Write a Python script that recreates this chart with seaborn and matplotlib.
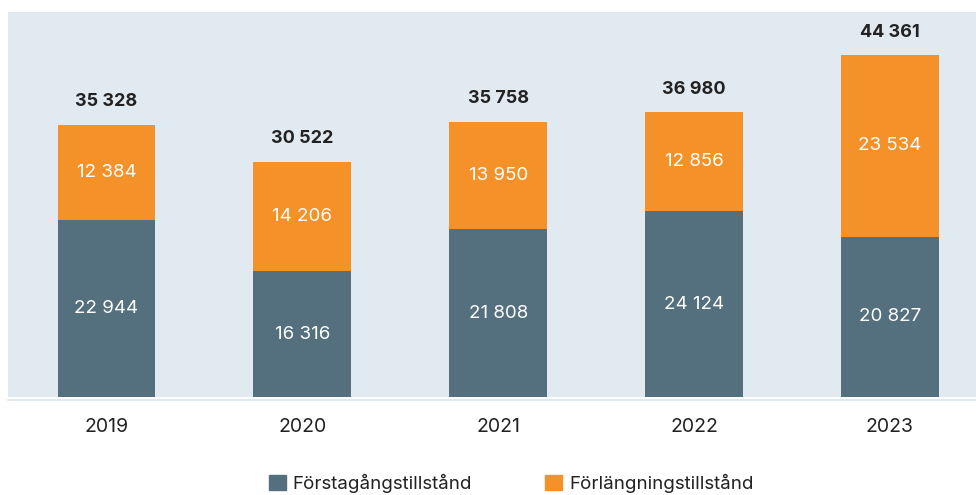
import pandas as pd
import numpy as np
import matplotlib.pyplot as plt
import seaborn as sns
from matplotlib.patches import Patch

years = ["2019", "2020", "2021", "2022", "2023"]
forstagang = [22944, 16316, 21808, 24124, 20827]
forlangning = [12384, 14206, 13950, 12856, 23534]
totals = [35328, 30522, 35758, 36980, 44361]

dark = "#546f7e"
orange = "#f59129"
bg = "#e1e9f1"

sns.set_theme(style="white")
plt.rcParams['font.family'] = ['Inter', 'DejaVu Sans']

df = pd.DataFrame({"year": years, "first": forstagang, "ext": forlangning, "total": totals})
df["stack"] = df["first"] + df["ext"]

fig = plt.figure(figsize=(9.76, 4.95), dpi=100)
ax = fig.add_axes([0.0082, 0.198, 0.9918, 0.778])
ax.set_facecolor(bg)

# orange drawn to full height, dark drawn over the lower part
sns.barplot(data=df, x="year", y="stack", color=orange, width=0.5, saturation=1,
            linewidth=0, ax=ax)
sns.barplot(data=df, x="year", y="first", color=dark, width=0.5, saturation=1,
            linewidth=0, ax=ax)

ax.set_ylim(0, 50000)
ax.set_xlim(-0.503, 4.44)
ax.set_xlabel("")
ax.set_ylabel("")
ax.set_yticks([])
for s in ax.spines.values():
    s.set_visible(False)
ax.tick_params(axis="x", length=0, pad=15, labelsize=14, labelcolor="#222222")

fmt = lambda v: f"{v:,}".replace(",", " ")
for i, row in df.iterrows():
    ax.text(i, row["first"] / 2, fmt(row["first"]), ha="center", va="center",
            color="white", fontsize=13.5)
    ax.text(i, row["first"] + row["ext"] / 2, fmt(row["ext"]), ha="center", va="center",
            color="white", fontsize=13.5)
    ax.text(i, row["stack"] + 1900, fmt(row["total"]), ha="center", va="bottom",
            color="#222222", fontsize=13, fontweight="bold")

# thin baseline just under the plot area
ax.plot([0, 1], [-0.008, -0.008], transform=ax.transAxes, color=bg, lw=1.5, clip_on=False)

handles = [Patch(color=dark, label="Förstagångstillstånd"),
           Patch(color=orange, label="Förlängningstillstånd")]
fig.legend(handles=handles, loc="lower center", bbox_to_anchor=(0.524, -0.03), ncol=2,
           frameon=False, fontsize=13.5, handlelength=0.9, handleheight=0.9,
           handletextpad=0.35, columnspacing=3.9, labelcolor="#222222")

fig.savefig("out.png", dpi=100)
